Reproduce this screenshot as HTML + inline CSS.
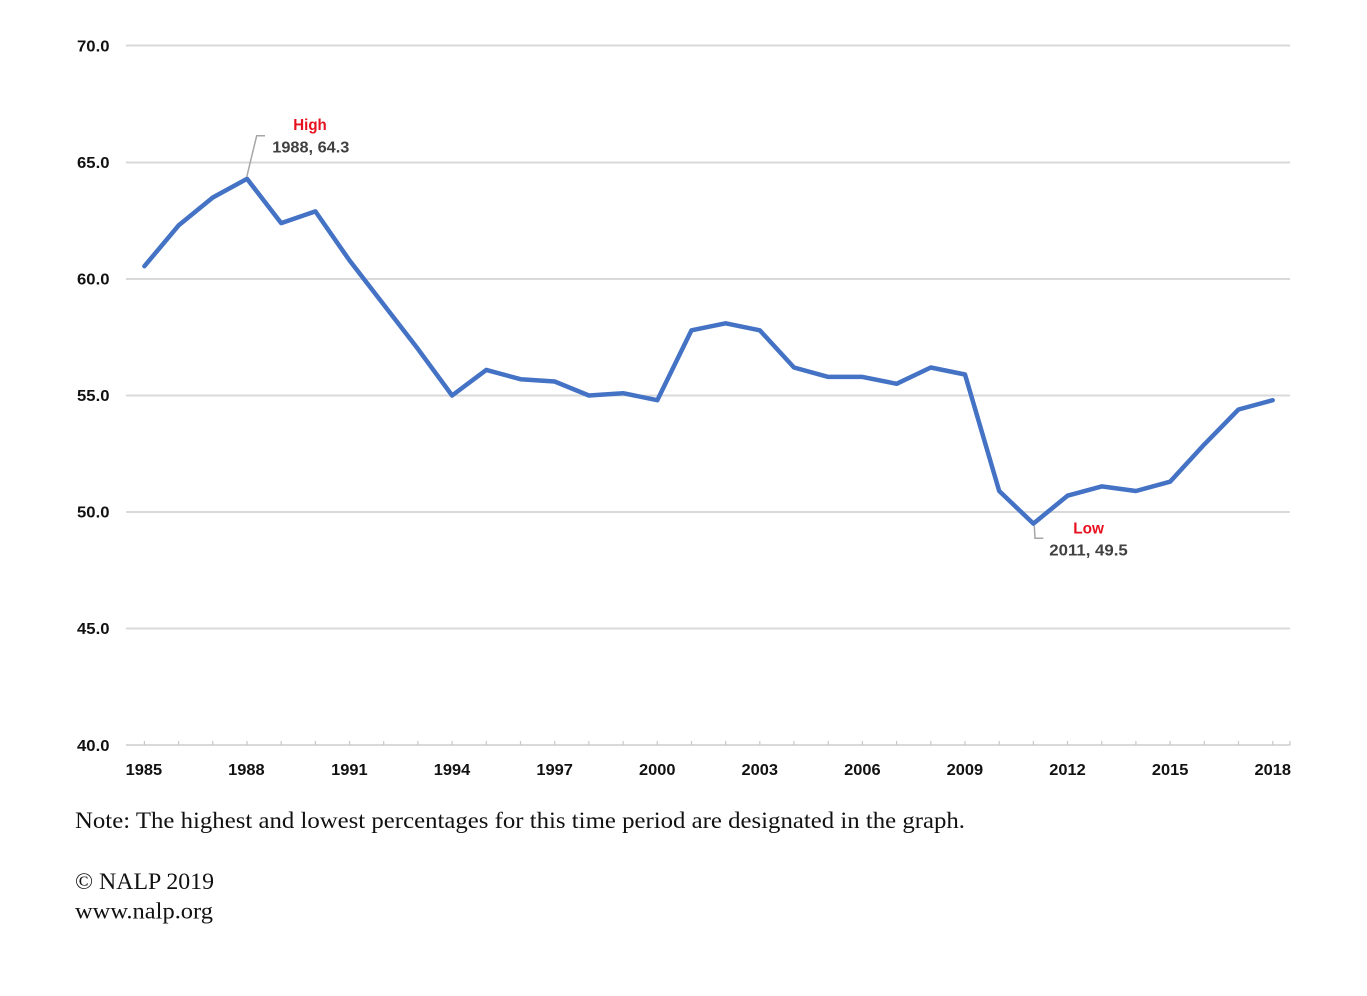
<!DOCTYPE html>
<html>
<head>
<meta charset="utf-8">
<style>
html,body{margin:0;padding:0;background:#fff;}
svg{display:block;}
</style>
</head>
<body>
<svg width="1367" height="996" viewBox="0 0 1367 996" xmlns="http://www.w3.org/2000/svg">
<rect width="1367" height="996" fill="#fff"/>
<!-- gridlines -->
<g stroke="#d9d9d9" stroke-width="2">
<line x1="126" y1="45.5" x2="1290" y2="45.5"/>
<line x1="126" y1="162.5" x2="1290" y2="162.5"/>
<line x1="126" y1="279" x2="1290" y2="279"/>
<line x1="126" y1="395.5" x2="1290" y2="395.5"/>
<line x1="126" y1="512" x2="1290" y2="512"/>
<line x1="126" y1="628.5" x2="1290" y2="628.5"/>
<line x1="126" y1="745" x2="1290" y2="745"/>
</g>
<!-- ticks -->
<g stroke="#c8c8c8" stroke-width="1.2">
<line x1="144.4" y1="741" x2="144.4" y2="745"/>
<line x1="178.6" y1="741" x2="178.6" y2="745"/>
<line x1="212.8" y1="741" x2="212.8" y2="745"/>
<line x1="247.0" y1="741" x2="247.0" y2="745"/>
<line x1="281.2" y1="741" x2="281.2" y2="745"/>
<line x1="315.4" y1="741" x2="315.4" y2="745"/>
<line x1="349.5" y1="741" x2="349.5" y2="745"/>
<line x1="383.7" y1="741" x2="383.7" y2="745"/>
<line x1="417.9" y1="741" x2="417.9" y2="745"/>
<line x1="452.1" y1="741" x2="452.1" y2="745"/>
<line x1="486.3" y1="741" x2="486.3" y2="745"/>
<line x1="520.5" y1="741" x2="520.5" y2="745"/>
<line x1="554.7" y1="741" x2="554.7" y2="745"/>
<line x1="588.9" y1="741" x2="588.9" y2="745"/>
<line x1="623.1" y1="741" x2="623.1" y2="745"/>
<line x1="657.3" y1="741" x2="657.3" y2="745"/>
<line x1="691.5" y1="741" x2="691.5" y2="745"/>
<line x1="725.6" y1="741" x2="725.6" y2="745"/>
<line x1="759.8" y1="741" x2="759.8" y2="745"/>
<line x1="794.0" y1="741" x2="794.0" y2="745"/>
<line x1="828.2" y1="741" x2="828.2" y2="745"/>
<line x1="862.4" y1="741" x2="862.4" y2="745"/>
<line x1="896.6" y1="741" x2="896.6" y2="745"/>
<line x1="930.8" y1="741" x2="930.8" y2="745"/>
<line x1="965.0" y1="741" x2="965.0" y2="745"/>
<line x1="999.2" y1="741" x2="999.2" y2="745"/>
<line x1="1033.4" y1="741" x2="1033.4" y2="745"/>
<line x1="1067.5" y1="741" x2="1067.5" y2="745"/>
<line x1="1101.7" y1="741" x2="1101.7" y2="745"/>
<line x1="1135.9" y1="741" x2="1135.9" y2="745"/>
<line x1="1170.1" y1="741" x2="1170.1" y2="745"/>
<line x1="1204.3" y1="741" x2="1204.3" y2="745"/>
<line x1="1238.5" y1="741" x2="1238.5" y2="745"/>
<line x1="1272.7" y1="741" x2="1272.7" y2="745"/>
<line x1="1290" y1="741" x2="1290" y2="745"/>
</g>
<!-- y labels -->
<g font-family="Liberation Sans, sans-serif" font-weight="bold" font-size="15.4" fill="#111">
<text x="77" y="51.5" textLength="32.5" lengthAdjust="spacingAndGlyphs">70.0</text>
<text x="77" y="168" textLength="32.5" lengthAdjust="spacingAndGlyphs">65.0</text>
<text x="77" y="284.5" textLength="32.5" lengthAdjust="spacingAndGlyphs">60.0</text>
<text x="77" y="401" textLength="32.5" lengthAdjust="spacingAndGlyphs">55.0</text>
<text x="77" y="517.5" textLength="32.5" lengthAdjust="spacingAndGlyphs">50.0</text>
<text x="77" y="634" textLength="32.5" lengthAdjust="spacingAndGlyphs">45.0</text>
<text x="77" y="751" textLength="32.5" lengthAdjust="spacingAndGlyphs">40.0</text>
</g>
<!-- x labels -->
<g font-family="Liberation Sans, sans-serif" font-weight="bold" font-size="15.4" fill="#111">
<text x="125.6" y="775" textLength="36.5" lengthAdjust="spacingAndGlyphs">1985</text>
<text x="228.2" y="775" textLength="36.5" lengthAdjust="spacingAndGlyphs">1988</text>
<text x="331.2" y="775" textLength="36.5" lengthAdjust="spacingAndGlyphs">1991</text>
<text x="433.8" y="775" textLength="36.5" lengthAdjust="spacingAndGlyphs">1994</text>
<text x="536.4" y="775" textLength="36.5" lengthAdjust="spacingAndGlyphs">1997</text>
<text x="639.0" y="775" textLength="36.5" lengthAdjust="spacingAndGlyphs">2000</text>
<text x="741.5" y="775" textLength="36.5" lengthAdjust="spacingAndGlyphs">2003</text>
<text x="844.1" y="775" textLength="36.5" lengthAdjust="spacingAndGlyphs">2006</text>
<text x="946.7" y="775" textLength="36.5" lengthAdjust="spacingAndGlyphs">2009</text>
<text x="1049.3" y="775" textLength="36.5" lengthAdjust="spacingAndGlyphs">2012</text>
<text x="1151.9" y="775" textLength="36.5" lengthAdjust="spacingAndGlyphs">2015</text>
<text x="1254.5" y="775" textLength="36.5" lengthAdjust="spacingAndGlyphs">2018</text>
</g>
<!-- series -->
<polyline fill="none" stroke="#4472c4" stroke-width="4.5" stroke-linejoin="round" stroke-linecap="round"
points="144.4,266.2 178.6,225.4 212.8,197.5 247.0,178.8 281.2,223.1 315.4,211.4 349.5,260.4 383.7,304.6 417.9,348.9 452.1,395.5 486.3,369.9 520.5,379.2 554.7,381.5 588.9,395.5 623.1,393.2 657.3,400.2 691.5,330.3 725.6,323.3 759.8,330.3 794.0,367.5 828.2,376.9 862.4,376.9 896.6,383.8 930.8,367.5 965.0,374.5 999.2,491.0 1033.4,523.6 1067.5,495.7 1101.7,486.4 1135.9,491.0 1170.1,481.7 1204.3,444.4 1238.5,409.5 1272.7,400.2"/>
<!-- annotations -->
<polyline fill="none" stroke="#a6a6a6" stroke-width="1.5" points="246.7,177 256.7,135.7 265,135.7"/>
<polyline fill="none" stroke="#a6a6a6" stroke-width="1.5" points="1034.3,526 1035,538.3 1043.3,538.3"/>
<g font-family="Liberation Sans, sans-serif" font-weight="bold" font-size="15.4">
<text x="293.3" y="130" fill="#e8101e" textLength="33.4" lengthAdjust="spacingAndGlyphs">High</text>
<text x="272.3" y="152.7" fill="#404040" textLength="77" lengthAdjust="spacingAndGlyphs">1988, 64.3</text>
<text x="1073.3" y="533.3" fill="#e8101e" textLength="30.7" lengthAdjust="spacingAndGlyphs">Low</text>
<text x="1049.3" y="555.5" fill="#404040" textLength="78.4" lengthAdjust="spacingAndGlyphs">2011, 49.5</text>
</g>
<!-- notes -->
<g font-family="Liberation Serif, serif" font-size="23" fill="#111">
<text x="75" y="828" textLength="890" lengthAdjust="spacingAndGlyphs">Note: The highest and lowest percentages for this time period are designated in the graph.</text>
<text x="75" y="889" textLength="139" lengthAdjust="spacingAndGlyphs">© NALP 2019</text>
<text x="75" y="918.5" textLength="138" lengthAdjust="spacingAndGlyphs">www.nalp.org</text>
</g>
</svg>
</body>
</html>
